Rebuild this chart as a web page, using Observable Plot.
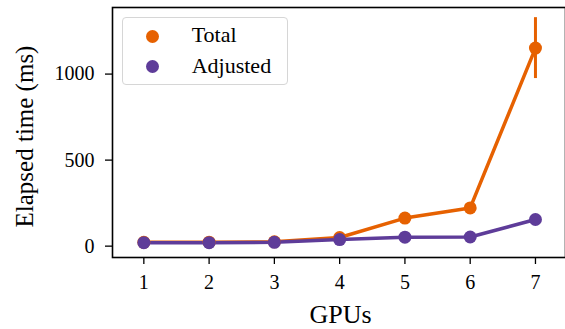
<!DOCTYPE html>
<html>
<head>
<meta charset="utf-8">
<script src="https://cdn.jsdelivr.net/npm/d3@7"></script>
<script src="https://cdn.jsdelivr.net/npm/@observablehq/plot@0.6"></script>
<style>
  html, body { margin: 0; padding: 0; background: #fff; }
  #wrap { position: relative; width: 565px; height: 329px; overflow: hidden; }
  .legend { position: absolute; left: 122px; top: 17px; width: 164px; height: 66px;
    border: 1px solid #d6d6d6; border-radius: 4px; background: rgba(255,255,255,0.85);
    font-family: "Liberation Serif", "DejaVu Serif", serif; font-size: 22px; color: #000; }
  .legend .sw { position: absolute; left: 22.5px; width: 13px; height: 13px; border-radius: 50%; }
  .legend .lab { position: absolute; left: 68.7px; line-height: 22px; white-space: nowrap; }
</style>
</head>
<body>
<div id="wrap"></div>
<script>
const gpus = [1, 2, 3, 4, 5, 6, 7];
const total = [22, 23, 25, 50, 163, 222, 1151];
const totalErr = [0, 0, 0, 0, 0, 0, 177];
const adjusted = [20, 20, 22, 38, 52, 53, 155];
const seriesNames = ["Total", "Adjusted"];
const colors = ["#e66101", "#5e3c99"];
const yTicks = [0, 500, 1000];

const rows = [];
gpus.forEach((g, i) => rows.push({g, v: total[i], err: totalErr[i], s: "Total"}));
gpus.forEach((g, i) => rows.push({g, v: adjusted[i], err: 0, s: "Adjusted"}));
const errRows = rows.filter(d => d.err > 0);

const font = "'Liberation Serif', 'DejaVu Serif', serif";

const chart = Plot.plot({
  width: 565,
  height: 329,
  marginLeft: 112,
  marginTop: 7,
  marginBottom: 72,
  marginRight: 0,
  style: {fontFamily: font, fontSize: "20px", color: "#000", background: "#fff"},
  x: {domain: [0.5, 7.5], range: [110.7, 567.6], label: null},
  y: {domain: [-66, 1387], label: null},
  color: {domain: seriesNames, range: colors},
  marks: [
    Plot.frame({stroke: "#000", strokeWidth: 1.6}),
    Plot.axisX({ticks: gpus, tickFormat: d => String(d), tickSize: 7, tickPadding: 10, fontSize: 20, strokeWidth: 1.3, label: null}),
    Plot.axisY({ticks: yTicks, tickFormat: d3.format("d"), tickSize: 7, tickPadding: 11, fontSize: 20, strokeWidth: 1.3, label: null}),
    Plot.text(["GPUs"], {frameAnchor: "bottom", textAnchor: "middle", dx: 1.5, dy: 57, lineAnchor: "middle", fontSize: 26}),
    Plot.text(["Elapsed time (ms)"], {frameAnchor: "left", textAnchor: "middle", rotate: -90, dx: -88, dy: 4, lineAnchor: "middle", fontSize: 25}),
    Plot.ruleX(errRows, {x: "g", y1: d => d.v - d.err, y2: d => d.v + d.err, stroke: "s", strokeWidth: 3}),
    Plot.line(rows, {x: "g", y: "v", z: "s", stroke: "s", strokeWidth: 3.5}),
    Plot.dot(rows, {x: "g", y: "v", fill: "s", r: 6.5, stroke: null})
  ]
});
document.getElementById("wrap").appendChild(chart);

const leg = document.createElement("div");
leg.className = "legend";
seriesNames.forEach((name, i) => {
  const sw = document.createElement("span");
  sw.className = "sw";
  sw.style.top = (11.5 + i * 30) + "px";
  sw.style.background = colors[i];
  const lab = document.createElement("span");
  lab.className = "lab";
  lab.style.top = (5.5 + i * 31.3) + "px";
  lab.textContent = name;
  leg.appendChild(sw);
  leg.appendChild(lab);
});
document.getElementById("wrap").appendChild(leg);
</script>
</body>
</html>
